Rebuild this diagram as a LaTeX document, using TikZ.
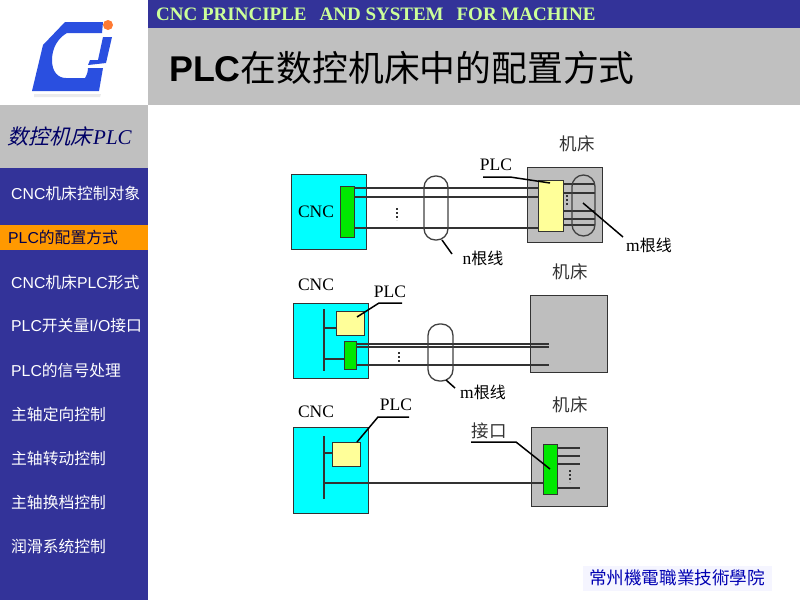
\documentclass[tikz,border=0pt]{standalone}
\usepackage{fontspec}
\setmainfont{Liberation Serif}
\setsansfont{Liberation Sans}
\newfontfamily\cjk{Noto Sans CJK SC}
\newfontfamily\cjktc{Noto Sans CJK TC}
\newfontfamily\cjkit[FakeSlant=0.25]{Noto Sans CJK SC}
\definecolor{panelblue}{HTML}{333399}
\definecolor{panelgrey}{HTML}{C0C0C0}
\definecolor{bandtext}{HTML}{CCFF99}
\definecolor{hilite}{HTML}{FF9900}
\definecolor{cncblue}{HTML}{00FFFF}
\definecolor{plcyellow}{HTML}{FFFF99}
\definecolor{portgreen}{HTML}{00E800}
\definecolor{toolgrey}{HTML}{BEBEBE}
\definecolor{wire}{HTML}{333333}
\definecolor{logoblue}{HTML}{2A4FE0}
\tikzset{
    menuitem/.style={anchor=west, text=white, font=\sffamily\fontsize{15.8}{18}\selectfont, inner sep=0},
    plainlabel/.style={font=\fontsize{17.5}{18}\selectfont, text=black, inner sep=0},
    cjklabel/.style={font=\cjk\fontsize{17.5}{18}\selectfont, text=black!80, inner sep=0},
    cncbox/.style={draw=wire, line width=1.3pt, fill=cncblue, anchor=north west, inner sep=0},
    toolbox/.style={draw=wire, line width=1.3pt, fill=toolgrey, anchor=north west, inner sep=0},
    plcbox/.style={draw=wire, line width=1.3pt, fill=plcyellow, anchor=north west, inner sep=0},
    portbox/.style={draw=wire, line width=1.3pt, fill=portgreen, anchor=north west, inner sep=0},
    wirebundle/.style={draw=black!75, line width=1.3pt, rounded corners=11.5pt},
    wireline/.style={draw=wire, line width=1.2pt},
    leader/.style={draw=black, line width=1.5pt},
    vdots/.style={draw=wire, line width=1.6pt, dash pattern=on 1.6pt off 2.4pt}
}
\begin{document}
\begin{tikzpicture}[x=1pt, y=-1pt]
    \useasboundingbox (0, 0) rectangle (800, 600);
    % panels
    \fill [panelblue] (148, 0) rectangle (800, 28);
    \fill [panelgrey] (148, 28) rectangle (800, 105);
    \fill [panelgrey] (0, 105) rectangle (148, 168);
    \fill [panelblue] (0, 168) rectangle (148, 600);
    \fill [hilite] (0, 225) rectangle (148, 250);
    \node (band) [anchor=west, inner sep=0, text=bandtext, font=\bfseries\fontsize{19}{20}\selectfont] at (156, 14) {CNC PRINCIPLE\hspace{13pt}AND SYSTEM\hspace{13pt}FOR MACHINE};
    \node (title) [anchor=west, inner sep=0, font=\fontsize{35.8}{38}\selectfont] at (169, 68) {\sffamily\bfseries PLC{\mdseries\cjk 在数控机床中的配置方式}};
    \node (side) [anchor=west, inner sep=0, text=blue!40!black, font=\fontsize{21}{24}\selectfont] at (7, 136) {\cjkit 数控机床\kern2pt\rmfamily\itshape PLC};
    % logo
    \fill [black!8] (34, 94) -- (101, 94) -- (100, 97) -- (34, 97) -- cycle;
    \fill [logoblue] (65, 22) -- (103, 22) -- (102, 33) -- (67, 33) .. controls (58, 38) and (52, 48) .. (52, 60) .. controls (52, 72) and (58, 78) .. (66, 78) -- (85, 78) .. controls (87, 75) and (88, 71) .. (88, 68) -- (103, 68) -- (99, 91) -- (32, 91) -- (43, 45) -- cycle;
    \fill [logoblue] (103, 37) -- (112, 37) -- (106, 63) -- (88, 65) -- (90, 60) -- (98, 60) -- cycle;
    \fill [orange!70!red!80!white] (108, 25) circle (5);
    % menu
    \node (item1) [menuitem] at (11, 193) {CNC{\cjk 机床控制对象}};
    \node (item2) [menuitem, text=blue!30!black] at (8, 237) {PLC{\cjk 的配置方式}};
    \node (item3) [menuitem] at (11, 282) {CNC{\cjk 机床}PLC{\cjk 形式}};
    \node (item4) [menuitem] at (11, 326) {PLC{\cjk 开关量}I/O{\cjk 接口}};
    \node (item5) [menuitem] at (11, 370) {PLC{\cjk 的信号处理}};
    \node (item6) [menuitem] at (11, 414) {\cjk 主轴定向控制};
    \node (item7) [menuitem] at (11, 458) {\cjk 主轴转动控制};
    \node (item8) [menuitem] at (11, 502) {\cjk 主轴换档控制};
    \node (item9) [menuitem] at (11, 546) {\cjk 润滑系统控制};
    % school name
    \node (school) [fill=blue!4, text=blue!70!black, minimum width=189pt, minimum height=25pt, inner sep=0, font=\cjktc\fontsize{17.6}{18}\selectfont] at (677, 578) {常州機電職業技術學院};
    % first layout
    \node (cncA) [cncbox, minimum width=75pt, minimum height=75pt] at (291, 174) {};
    \node (toolA) [toolbox, minimum width=75pt, minimum height=75pt] at (527, 167) {};
    \node (portA) [portbox, minimum width=14pt, minimum height=51pt] at (340, 186) {};
    \node (plcA) [plcbox, minimum width=25pt, minimum height=51pt] at (538, 180) {};
    \node (cncAtext) [plainlabel] at (316, 212) {CNC};
    \node (toolAtext) [cjklabel] at (577, 144) {机床};
    \node (plcAtext) [plainlabel] at (496, 165) {PLC};
    \node (nAtext) [plainlabel] at (483, 258) {n{\cjk\fontsize{16}{18}\selectfont 根线}};
    \node (mAtext) [plainlabel] at (649, 245) {m{\cjk\fontsize{16}{18}\selectfont 根线}};
    \draw [wireline] (portA.east |- 0, 188) -- (plcA.west |- 0, 188);
    \draw [wireline] (portA.east |- 0, 197) -- (plcA.west |- 0, 197);
    \draw [wireline] (portA.east |- 0, 228) -- (plcA.west |- 0, 228);
    \draw [wireline] (plcA.east |- 0, 184) -- (595, 184);
    \draw [wireline] (plcA.east |- 0, 193) -- (595, 193);
    \draw [wireline] (plcA.east |- 0, 211) -- (595, 211);
    \draw [wireline] (plcA.east |- 0, 219) -- (595, 219);
    \draw [wireline] (plcA.east |- 0, 225) -- (595, 225);
    \draw [wirebundle] (424, 176) rectangle (448, 240);
    \draw [wirebundle] (572, 175) rectangle (595, 236);
    \draw [vdots] (397, 208) -- (397, 220);
    \draw [vdots] (567, 195) -- (567, 206);
    \draw [leader] (483, 177) -- (510, 177) -- (550, 183);
    \draw [leader] (583, 203) -- (623, 237);
    \draw [leader] (442, 240) -- (452, 254);
    % second layout
    \node (cncB) [cncbox, minimum width=75pt, minimum height=75pt] at (293, 303) {};
    \node (toolB) [toolbox, minimum width=77pt, minimum height=77pt] at (530, 295) {};
    \node (plcB) [plcbox, minimum width=28pt, minimum height=24pt] at (336, 311) {};
    \node (portB) [portbox, minimum width=12pt, minimum height=28pt] at (344, 341) {};
    \node (cncBtext) [plainlabel] at (316, 285) {CNC};
    \node (toolBtext) [cjklabel] at (570, 272) {机床};
    \node (plcBtext) [plainlabel] at (390, 292) {PLC};
    \node (mBtext) [plainlabel] at (483, 392) {m{\cjk\fontsize{16}{18}\selectfont 根线}};
    \draw [wireline] (324, 309) -- (324, 371);
    \draw [wireline] (324, 328) -- (plcB.west |- 0, 328);
    \draw [wireline] (324, 359) -- (portB.west |- 0, 359);
    \draw [wireline] (portB.east |- 0, 344) -- (549, 344);
    \draw [wireline] (portB.east |- 0, 347) -- (549, 347);
    \draw [wireline] (portB.east |- 0, 365) -- (549, 365);
    \draw [wirebundle] (428, 324) rectangle (453, 381);
    \draw [vdots] (399, 352) -- (399, 364);
    \draw [leader] (402, 303) -- (379, 303) -- (357, 317);
    \draw [leader] (446, 380) -- (455, 388);
    % third layout
    \node (cncC) [cncbox, minimum width=75pt, minimum height=86pt] at (293, 427) {};
    \node (toolC) [toolbox, minimum width=76pt, minimum height=79pt] at (531, 427) {};
    \node (plcC) [plcbox, minimum width=28pt, minimum height=24pt] at (332, 442) {};
    \node (portC) [portbox, minimum width=14pt, minimum height=50pt] at (543, 444) {};
    \node (cncCtext) [plainlabel] at (316, 412) {CNC};
    \node (toolCtext) [cjklabel] at (570, 405) {机床};
    \node (plcCtext) [plainlabel] at (396, 405) {PLC};
    \node (portCtext) [cjklabel] at (489, 431) {接口};
    \draw [wireline] (324, 436) -- (324, 499);
    \draw [wireline] (324, 453) -- (plcC.west |- 0, 453);
    \draw [wireline] (324, 483) -- (portC.west |- 0, 483);
    \draw [wireline] (portC.east |- 0, 448) -- (580, 448);
    \draw [wireline] (portC.east |- 0, 456) -- (580, 456);
    \draw [wireline] (portC.east |- 0, 464) -- (580, 464);
    \draw [wireline] (portC.east |- 0, 488) -- (580, 488);
    \draw [vdots] (570, 470) -- (570, 482);
    \draw [leader] (409, 417) -- (378, 417) -- (357, 442);
    \draw [leader] (471, 442) -- (516, 442) -- (550, 469);
\end{tikzpicture}
\end{document}
